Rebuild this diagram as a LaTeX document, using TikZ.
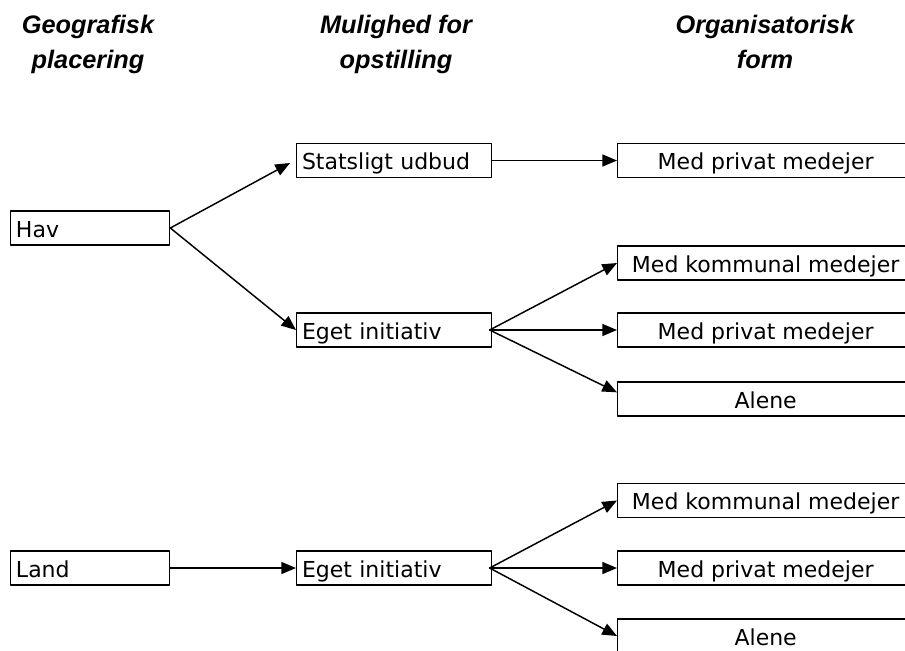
\documentclass[tikz,border=0pt]{standalone}
\usepackage{fontspec}
\setmainfont{DejaVu Sans}
\newfontfamily\headfont{Liberation Sans}
\usetikzlibrary{arrows.meta}

\begin{document}
\begin{tikzpicture}[x=0.75pt,y=-0.75pt,line cap=round,line join=round,
  boks/.style={draw,line width=1pt,minimum height=25.5pt,inner ysep=0pt,text height=15.5pt,text depth=1.5pt,font=\fontsize{16.5}{20}\selectfont},
  venstre/.style={boks,anchor=west,inner xsep=4pt,text width=#1,align=left},
  hoejre/.style={boks,anchor=west,inner xsep=4pt,minimum width=222pt},
  overskrift/.style={anchor=north,align=center,inner sep=0pt,font=\headfont\bfseries\itshape\fontsize{19}{26.5}\selectfont},
  pil/.style={line width=1.1pt,-{Triangle[length=11pt,width=9pt]}}]
\clip (0,0) rectangle (905,650);

\node[overskrift] (geo) at (88,15) {Geografisk\\placering};
\node[overskrift] (mul) at (396,15) {Mulighed for\\opstilling};
\node[overskrift] (org) at (765,15) {Organisatorisk\\form};

\node[venstre=111.25pt] (hav) at (10,228) {Hav};
\node[venstre=111.25pt] (land) at (10,568) {Land};

\node[venstre=138.25pt] (stat) at (296,160.5) {Statsligt udbud};
\node[venstre=138.25pt] (egetA) at (296,330) {Eget initiativ};
\node[venstre=138.25pt] (egetB) at (296,568) {Eget initiativ};

\node[hoejre] (privA) at (617,160.5) {Med privat medejer};
\node[hoejre] (kommA) at (617,263) {Med kommunal medejer};
\node[hoejre] (privB) at (617,330) {Med privat medejer};
\node[hoejre] (aleneA) at (617,399) {Alene};
\node[hoejre] (kommB) at (617,500.5) {Med kommunal medejer};
\node[hoejre] (privC) at (617,568) {Med privat medejer};
\node[hoejre] (aleneB) at (617,636) {Alene};

\draw[pil] (hav.east) -- ([shift={(-6,2.5)}]stat.west);
\draw[pil] (hav.east) -- (egetA.west);
\draw[pil] (stat.east) -- (privA.west);

\draw[pil] ([xshift=-2pt]egetA.east) -- (kommA.west);
\draw[pil] ([xshift=-2pt]egetA.east) -- (privB.west);
\draw[pil] ([xshift=-2pt]egetA.east) -- ([yshift=5pt]aleneA.west);

\draw[pil] (land.east) -- (egetB.west);
\draw[pil] ([xshift=-2pt]egetB.east) -- (kommB.west);
\draw[pil] ([xshift=-2pt]egetB.east) -- (privC.west);
\draw[pil] ([xshift=-2pt]egetB.east) -- (aleneB.west);
\end{tikzpicture}
\end{document}
